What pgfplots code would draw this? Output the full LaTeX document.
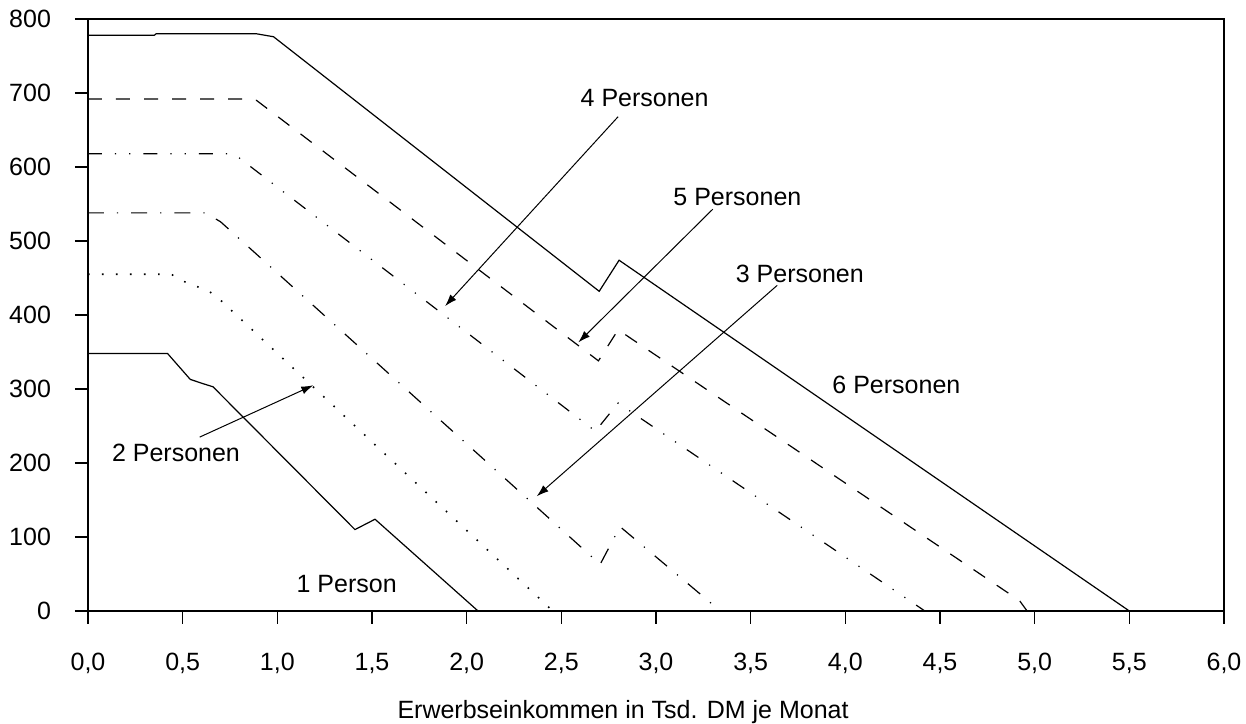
\documentclass[border=0pt]{standalone}
\usepackage{fontspec}
\setmainfont{Liberation Sans}
\usepackage{pgfplots}
\pgfplotsset{compat=1.18}
\usetikzlibrary{arrows.meta}

% Wohngeld-Kurven nach Haushaltsgroesse (x: Tsd. DM, y: DM)
\pgfplotstableread{
x y
0 348
0.42 348
0.54 313
0.61 307
0.66 303
1.41 110
1.516 124
2.06 0
}\einsP
\pgfplotstableread{
x y
0 455
0.44 455
0.50 446
0.57 439
0.64 432
0.70 420
2.455 0
}\zweiP
\pgfplotstableread{
x y
0 538
0.62 538
0.70 526
2.705 63
2.81 114
3.34 0
}\dreiP
\pgfplotstableread{
x y
0 618
0.75 618
0.80 612
2.68 243
2.80 281
4.42 0
}\vierP
\pgfplotstableread{
x y
0 692
0.85 692
0.89 690
2.696 338
2.80 380
4.92 14
4.96 0
}\fuenfP
\pgfplotstableread{
x y
0 778
0.35 778
0.36 780
0.89 780
0.98 776
2.70 432
2.805 474
5.50 0
}\sechsP

\begin{document}
\begin{tikzpicture}[font=\fontsize{12.5}{15}\selectfont]
\begin{axis}[
  name=ax, scale only axis, width=568pt, height=296pt,
  xmin=0, xmax=6, ymin=0, ymax=800,
  xtick={0,0.5,1,1.5,2,2.5,3,3.5,4,4.5,5,5.5,6},
  ytick={0,100,200,300,400,500,600,700,800},
  xtick pos=bottom, ytick pos=left,
  tick align=outside, major tick length=6.5pt,
  xtick style={draw=black, line width=0.6pt},
  ytick style={draw=black, line width=0.6pt},
  axis line style={line width=0.8pt},
  /pgf/number format/assume math mode=true,
  xticklabel style={yshift=-11pt, /pgf/number format/.cd, use comma, fixed, fixed zerofill, precision=1},
  yticklabel style={xshift=-8.5pt},
  xlabel={Erwerbseinkommen in Tsd. DM je Monat},
  xlabel style={at={(axis description cs:0.471,0)}, anchor=center, yshift=-50.5pt},
  cycle list={{black}},
  every axis plot/.append style={black, line width=0.6pt, no marks},
  clip=false]
\addplot[black, solid] table {\sechsP};
\addplot[black, dash pattern=on 7pt off 7pt] table {\fuenfP};
\addplot[black, dash pattern=on 7pt off 6.5pt on 0.6pt off 6.5pt on 0.6pt off 6.5pt] table {\vierP};
\addplot[black, dash pattern=on 8pt off 6.5pt on 0.6pt off 6.5pt] table {\dreiP};
\addplot[black, line width=0.8pt, dash pattern=on 0.8pt off 6.2pt] table {\zweiP};
\addplot[black, solid] table {\einsP};

% Beschriftungen
\begin{scope}[every node/.style={inner sep=0pt}]
\node[anchor=center] at (axis cs:2.94,693) {4 Personen};
\node[anchor=center] at (axis cs:3.43,560) {5 Personen};
\node[anchor=west] at (axis cs:3.42,455) {3 Personen};
\node[anchor=west] at (axis cs:3.93,305) {6 Personen};
\node[anchor=west] at (axis cs:0.125,213) {2 Personen};
\node[anchor=west] at (axis cs:1.10,36) {1 Person};
\end{scope}
\draw[-{Latex[length=6pt,width=4pt]}, line width=0.5pt] (axis cs:2.80,668) -- (axis cs:1.886,412);
\draw[-{Latex[length=6pt,width=4pt]}, line width=0.5pt] (axis cs:3.30,543) -- (axis cs:2.59,363);
\draw[-{Latex[length=6pt,width=4pt]}, line width=0.5pt] (axis cs:3.64,440) -- (axis cs:2.37,155);
\draw[-{Latex[length=6pt,width=4pt]}, line width=0.5pt] (axis cs:0.59,235) -- (axis cs:1.19,305);
\end{axis}
\pgfresetboundingbox
\path (ax.south west) ++(-44pt,-56.5pt) coordinate (bl);
\path (ax.north east) ++(11pt,9.5pt) coordinate (tr);
\path[use as bounding box] (bl) rectangle (tr);
\end{tikzpicture}
\end{document}
